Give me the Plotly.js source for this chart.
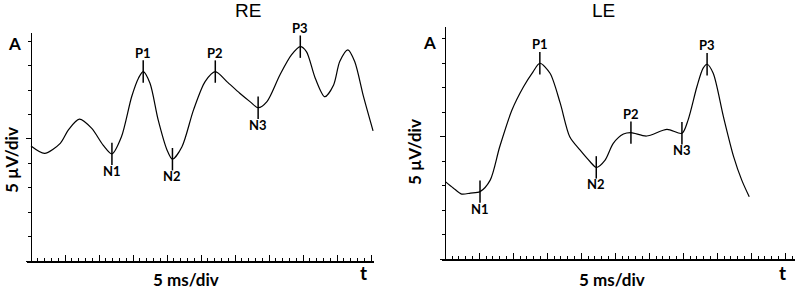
<!DOCTYPE html>
<html>
<head>
<meta charset="utf-8">
<script src="https://cdn.plot.ly/plotly-3.0.1.min.js"></script>
<style>html,body{margin:0;padding:0;background:#fff}#chart{width:796px;height:291px}</style>
</head>
<body>
<div id="chart"></div>
<script>
// RE (right eye) waveform: time in ms, amplitude in µV
const reT = [0, 2.0, 4.3, 5.5, 7.1, 8.9, 10.6, 11.9, 13.3, 14.8, 15.8, 16.5, 17.5, 18.7, 20.0, 20.8, 22.2, 23.9, 25.6, 27.1, 28.8, 30.7, 32.2, 33.4, 34.7, 36.6, 38.3, 39.6, 40.5, 41.8, 43.2, 44.5, 45.4, 46.6, 47.6, 48.9, 50.3];
const reV = [4.71, 4.41, 4.82, 5.37, 5.81, 5.44, 4.75, 4.39, 5.09, 6.73, 7.49, 7.76, 7.28, 5.78, 4.55, 4.17, 4.68, 6.19, 7.35, 7.76, 7.35, 6.87, 6.53, 6.28, 6.53, 7.62, 8.44, 8.78, 8.58, 7.49, 6.73, 7.21, 8.17, 8.65, 8.17, 6.73, 5.33];
const rePeakNames = ['N1', 'P1', 'N2', 'P2', 'N3', 'P3'];
const rePeakT = [11.9, 16.5, 20.8, 27.1, 33.4, 39.6];
const rePeakV = [4.39, 7.76, 4.17, 7.76, 6.28, 8.78];

// LE (left eye) waveform
const leT = [0, 1.2, 2.4, 3.7, 5.1, 6.6, 8.0, 9.8, 11.5, 12.9, 13.9, 15.4, 16.9, 18.3, 19.8, 21.3, 22.2, 23.5, 24.7, 26.2, 27.3, 29.6, 32.6, 34.8, 35.7, 37.0, 37.9, 38.5, 39.4, 40.9, 42.4, 43.6, 44.7];
const leV = [3.16, 2.89, 2.65, 2.69, 2.75, 3.22, 4.58, 6.08, 7.03, 7.64, 7.99, 7.58, 6.36, 4.99, 4.45, 3.97, 3.74, 4.04, 4.72, 5.10, 5.16, 5.02, 5.29, 5.13, 5.67, 7.03, 7.78, 7.95, 7.58, 5.81, 4.18, 3.22, 2.54];
const lePeakNames = ['N1', 'P1', 'N2', 'P2', 'N3', 'P3'];
const lePeakT = [5.1, 13.9, 22.2, 27.3, 34.8, 38.5];
const lePeakV = [2.75, 7.99, 3.74, 5.16, 5.13, 7.95];

const panelTitles = ['RE', 'LE'];
const yLabel = '5 µV/div';
const xLabel = '5 ms/div';

const W = 796, H = 291;
const px = v => v / W;
const py = v => (H - v) / H;
const labFont = {family: 'Lato, "Open Sans", sans-serif', size: 13, color: '#000', weight: 'bold'};

function curve(t, v, xa, ya) {
  return {x: t, y: v, xaxis: xa, yaxis: ya, type: 'scatter', mode: 'lines',
    line: {color: '#000', width: 1.2, shape: 'spline', smoothing: 0.8}, hoverinfo: 'skip'};
}
function peaks(t, v, xa, ya) {
  return {x: t, y: v, xaxis: xa, yaxis: ya, type: 'scatter', mode: 'markers', cliponaxis: false,
    marker: {symbol: 'line-ns', size: 16, color: '#000', line: {color: '#000', width: 1.5}},
    hoverinfo: 'skip'};
}
function peakLabels(names, t, v, xa, ya) {
  return names.map((n, i) => ({
    text: n, x: t[i], y: v[i], xref: xa, yref: ya, showarrow: false,
    xanchor: 'center', yanchor: 'middle', font: labFont,
    yshift: n[0] === 'N' ? -17 : 19
  }));
}

const data = [
  curve(reT, reV, 'x', 'y'),
  peaks(rePeakT, rePeakV, 'x', 'y'),
  curve(leT, leV, 'x2', 'y2'),
  peaks(lePeakT, lePeakV, 'x2', 'y2')
];

function xax(domain, range) {
  return {domain: domain, range: range, showgrid: false, zeroline: false, showticklabels: false,
    showline: true, linecolor: '#000', linewidth: 1.5,
    ticks: 'inside', tick0: 0, dtick: 5, ticklen: 6, tickwidth: 1, tickcolor: '#000',
    minor: {ticks: 'inside', dtick: 1, tick0: 0, ticklen: 3, tickwidth: 1, tickcolor: '#000'},
    fixedrange: true};
}
function yax(domain, range, pos) {
  return {domain: domain, range: range, anchor: 'free', position: pos,
    showgrid: false, zeroline: false, showticklabels: false,
    showline: true, linecolor: '#000', linewidth: 1.5,
    ticks: 'outside', tick0: 0, dtick: 5, ticklen: 5, tickwidth: 1, tickcolor: '#000',
    minor: {ticks: 'outside', dtick: 1, tick0: 0, ticklen: 3, tickwidth: 1, tickcolor: '#000'},
    fixedrange: true};
}

const bold = (s) => ({family: 'Lato, "Open Sans", sans-serif', size: s, color: '#000', weight: 'bold'});
function ann(text, x, y, font, angle) {
  return {text: text, x: px(x), y: py(y), xref: 'paper', yref: 'paper', showarrow: false,
    xanchor: 'center', yanchor: 'middle', font: font, textangle: angle || 0};
}
const titleFont = {family: 'Arial, "Liberation Sans", sans-serif', size: 19, color: '#000'};

const layout = {
  width: W, height: H, margin: {l: 0, r: 0, t: 0, b: 0},
  paper_bgcolor: '#fff', plot_bgcolor: 'rgba(0,0,0,0)', showlegend: false,
  xaxis: Object.assign(xax([px(27), px(374)], [-0.59, 50.44]), {anchor: 'y'}),
  yaxis: yax([py(261), py(33)], [0, 9.34], px(30.7)),
  xaxis2: Object.assign(xax([px(442), px(795)], [-0.49, 51.43]), {anchor: 'y2'}),
  yaxis2: yax([py(259), py(27)], [0, 9.47], px(444.5)),
  annotations: [
    ann(panelTitles[0], 248, 11, titleFont),
    ann(panelTitles[1], 603, 11, titleFont),
    ann('A', 15, 43, bold(17)),
    ann('A', 430, 42, bold(17)),
    ann(yLabel, 11, 160, bold(17), -90),
    ann(yLabel, 415, 152, bold(17), -90),
    ann(xLabel, 186, 279, bold(17)),
    ann(xLabel, 612, 279, bold(17)),
    ann('t', 363, 272, bold(19)),
    ann('t', 782, 272, bold(19))
  ].concat(peakLabels(rePeakNames, rePeakT, rePeakV, 'x', 'y'))
   .concat(peakLabels(lePeakNames, lePeakT, lePeakV, 'x2', 'y2'))
};

Plotly.newPlot('chart', data, layout, {staticPlot: true, displayModeBar: false});
</script>
</body>
</html>
